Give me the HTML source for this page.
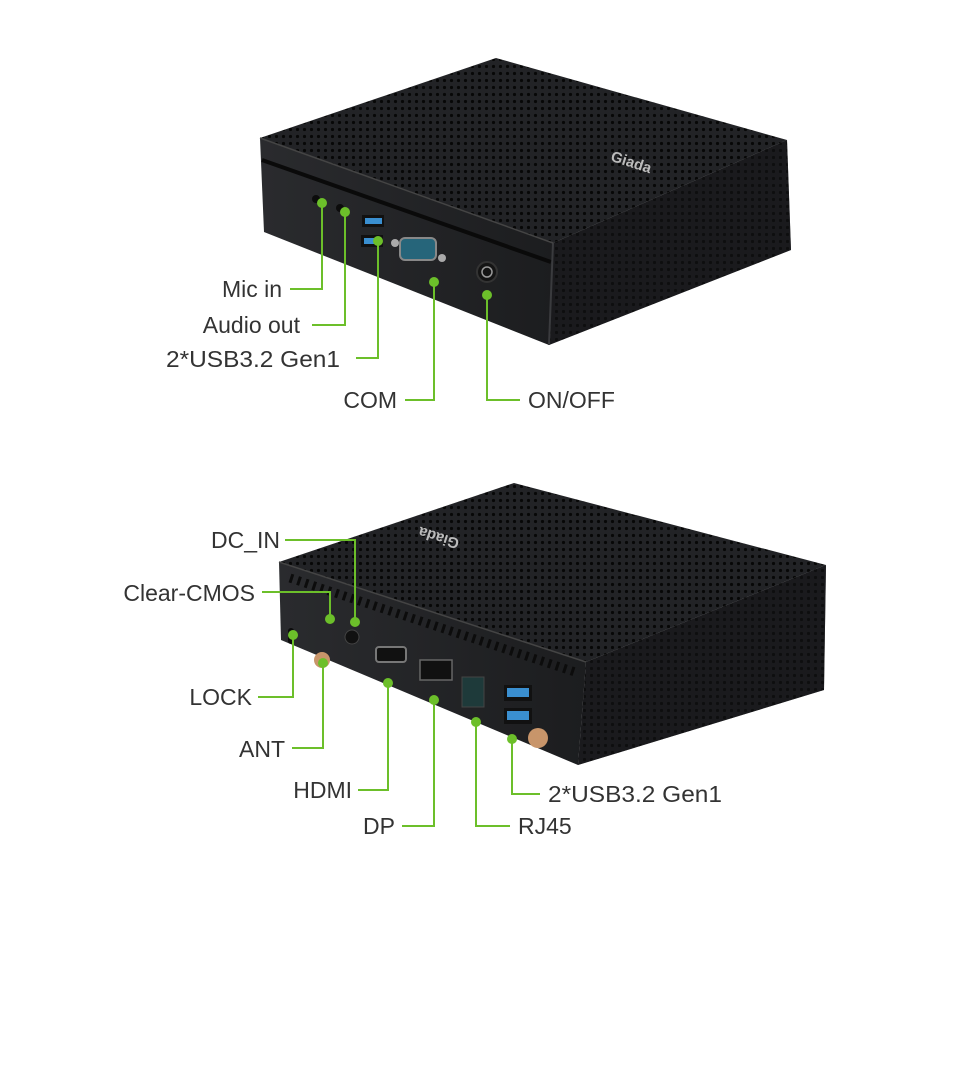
<!DOCTYPE html>
<html><head><meta charset="utf-8"><style>
html,body{margin:0;padding:0;background:#fff;}
svg{display:block;}
text{font-family:"Liberation Sans",Arial,sans-serif;font-size:23px;fill:#333;}
</style></head><body>
<svg width="960" height="1067" viewBox="0 0 960 1067" xmlns="http://www.w3.org/2000/svg">
<defs>
<pattern id="holes" width="7" height="7" patternUnits="userSpaceOnUse">
<rect width="7" height="7" fill="#222326"/><circle cx="3.5" cy="3.5" r="1.6" fill="#070707"/>
</pattern>
<linearGradient id="front" x1="0" y1="0" x2="1" y2="0">
<stop offset="0" stop-color="#2a2b2e"/><stop offset="1" stop-color="#1c1d1f"/>
</linearGradient>
</defs>

<!-- TOP DEVICE -->
<polygon points="260,138 496,58 787,140 553,243" fill="url(#holes)"/>
<polygon points="260,138 553,243 549,345 264,232" fill="url(#front)"/>
<polygon points="553,243 787,140 791,250 549,345" fill="url(#holes)"/>
<polygon points="553,243 787,140 791,250 549,345" fill="#141416" opacity="0.55"/>
<line x1="262" y1="160" x2="551" y2="262" stroke="#0a0a0a" stroke-width="4"/>
<line x1="553" y1="243" x2="549" y2="345" stroke="#3a3b3e" stroke-width="2"/>
<line x1="260" y1="138" x2="553" y2="243" stroke="#444" stroke-width="1.5"/>
<text x="610" y="170" style="font-size:15px;font-weight:bold;fill:#bbb" transform="rotate(18 640 165)">Giada</text>
<!-- ports top -->
<circle cx="316" cy="199" r="4" fill="#0c0c0c"/>
<circle cx="340" cy="208" r="4" fill="#0c0c0c"/>
<rect x="362" y="215" width="22" height="12" fill="#111"/><rect x="365" y="218" width="17" height="6" fill="#3a8fd0"/>
<rect x="361" y="235" width="22" height="12" fill="#111"/><rect x="364" y="238" width="17" height="6" fill="#3a8fd0"/>
<rect x="400" y="238" width="36" height="22" rx="5" fill="#26657a" stroke="#888" stroke-width="2"/>
<circle cx="395" cy="243" r="4" fill="#aaa"/><circle cx="442" cy="258" r="4" fill="#aaa"/>
<circle cx="487" cy="272" r="10" fill="#141414" stroke="#333" stroke-width="2"/>
<circle cx="487" cy="272" r="5" fill="none" stroke="#999" stroke-width="1.5"/>

<!-- connectors top -->
<g stroke="#6cbf2a" stroke-width="2" fill="none">
<polyline points="290,289 322,289 322,203"/>
<polyline points="312,325 345,325 345,212"/>
<polyline points="356,358 378,358 378,241"/>
<polyline points="405,400 434,400 434,282"/>
<polyline points="487,295 487,400 520,400"/>
</g>
<g fill="#6cbf2a">
<circle cx="322" cy="203" r="5"/><circle cx="345" cy="212" r="5"/><circle cx="378" cy="241" r="5"/>
<circle cx="434" cy="282" r="5"/><circle cx="487" cy="295" r="5"/>
</g>
<text x="282" y="297" text-anchor="end">Mic in</text>
<text x="300" y="333" text-anchor="end">Audio out</text>
<text x="166" y="367" textLength="174" lengthAdjust="spacingAndGlyphs">2*USB3.2 Gen1</text>
<text x="397" y="408" text-anchor="end">COM</text>
<text x="528" y="408">ON/OFF</text>

<!-- BOTTOM DEVICE -->
<polygon points="279,562 514,483 826,565 586,662" fill="url(#holes)"/>
<polygon points="279,562 586,662 578,765 281,640" fill="url(#front)"/>
<polygon points="586,662 826,565 824,690 578,765" fill="url(#holes)"/>
<polygon points="586,662 826,565 824,690 578,765" fill="#141416" opacity="0.55"/>
<polyline points="290,578 575,672" stroke="#0c0c0c" stroke-width="9" stroke-dasharray="3,5" fill="none"/>
<line x1="279" y1="562" x2="586" y2="662" stroke="#444" stroke-width="1.5"/>
<text x="400" y="540" style="font-size:15px;font-weight:bold;fill:#bbb" transform="rotate(198 430 535)">Giada</text>
<!-- ports bottom -->
<rect x="288" y="628" width="6" height="16" rx="3" fill="#0c0c0c"/>
<circle cx="352" cy="637" r="7" fill="#111" stroke="#444"/>
<circle cx="322" cy="660" r="8" fill="#c8956a"/>
<rect x="376" y="647" width="30" height="15" rx="3" fill="#111" stroke="#777" stroke-width="2"/>
<rect x="420" y="660" width="32" height="20" fill="#111" stroke="#666" stroke-width="1.5"/>
<rect x="462" y="677" width="22" height="30" fill="#1e3a3a" stroke="#444"/>
<rect x="504" y="685" width="28" height="16" fill="#111"/><rect x="507" y="688" width="22" height="9" fill="#3a8fd0"/>
<rect x="504" y="708" width="28" height="16" fill="#111"/><rect x="507" y="711" width="22" height="9" fill="#3a8fd0"/>
<circle cx="538" cy="738" r="10" fill="#c8956a"/>

<!-- connectors bottom -->
<g stroke="#6cbf2a" stroke-width="2" fill="none">
<polyline points="285,540 355,540 355,622"/>
<polyline points="262,592 330,592 330,619"/>
<polyline points="258,697 293,697 293,635"/>
<polyline points="292,748 323,748 323,663"/>
<polyline points="358,790 388,790 388,683"/>
<polyline points="402,826 434,826 434,700"/>
<polyline points="476,722 476,826 510,826"/>
<polyline points="512,739 512,794 540,794"/>
</g>
<g fill="#6cbf2a">
<circle cx="355" cy="622" r="5"/><circle cx="330" cy="619" r="5"/><circle cx="293" cy="635" r="5"/>
<circle cx="323" cy="663" r="5"/><circle cx="388" cy="683" r="5"/><circle cx="434" cy="700" r="5"/>
<circle cx="476" cy="722" r="5"/><circle cx="512" cy="739" r="5"/>
</g>
<text x="280" y="548" text-anchor="end">DC_IN</text>
<text x="255" y="601" text-anchor="end">Clear-CMOS</text>
<text x="252" y="705" text-anchor="end">LOCK</text>
<text x="285" y="757" text-anchor="end">ANT</text>
<text x="352" y="798" text-anchor="end">HDMI</text>
<text x="395" y="834" text-anchor="end">DP</text>
<text x="518" y="834">RJ45</text>
<text x="548" y="802" textLength="174" lengthAdjust="spacingAndGlyphs">2*USB3.2 Gen1</text>
</svg>
</body></html>
